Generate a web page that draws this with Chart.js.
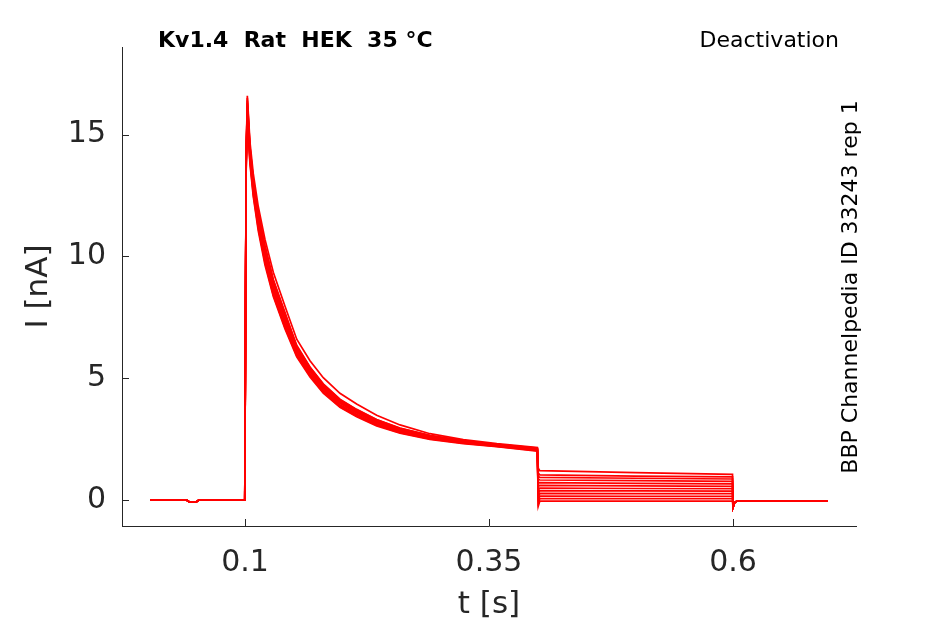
<!DOCTYPE html>
<html>
<head>
<meta charset="utf-8">
<script src="https://cdn.jsdelivr.net/npm/chart.js@4/dist/chart.umd.min.js"></script>
<style>
  html, body { margin: 0; padding: 0; background: #fff; }
  #wrap { width: 945px; height: 624px; }
</style>
</head>
<body>
<div id="wrap"><canvas id="traceChart"></canvas></div>
<script>
// time points (s) and current values (nA)
const baseTimes = [0.003, 0.04, 0.043, 0.05, 0.053, 0.0998];
const baseValues = [0, 0, -0.08, -0.08, 0, 0];

const actTimes = [0.1012, 0.1024, 0.1051, 0.1085, 0.1136, 0.1205, 0.129, 0.141, 0.153, 0.1666, 0.1802, 0.1973, 0.2144, 0.2349, 0.2588, 0.2895, 0.3237, 0.358, 0.3995];
const actSweeps = [
  [14.2, 16.6, 14.7, 13.4, 12.05, 10.7, 9.35, 7.95, 6.6, 5.72, 5.02, 4.38, 3.94, 3.48, 3.08, 2.72, 2.48, 2.31, 2.15],
  [14.1, 16.4, 14.5, 13.15, 11.8, 10.45, 9.05, 7.7, 6.3, 5.44, 4.75, 4.12, 3.7, 3.29, 2.94, 2.64, 2.43, 2.28, 2.13],
  [14.0, 16.2, 14.3, 12.95, 11.58, 10.2, 8.84, 7.47, 6.2, 5.34, 4.66, 4.04, 3.63, 3.22, 2.88, 2.6, 2.4, 2.26, 2.1],
  [13.9, 16.0, 14.2, 12.85, 11.45, 10.05, 8.7, 7.35, 6.1, 5.26, 4.58, 3.97, 3.57, 3.17, 2.84, 2.57, 2.38, 2.24, 2.08],
  [13.8, 15.9, 14.1, 12.75, 11.35, 9.95, 8.6, 7.25, 6.03, 5.19, 4.52, 3.91, 3.52, 3.13, 2.81, 2.55, 2.36, 2.23, 2.06],
  [14.1, 16.3, 14.4, 13.05, 11.68, 10.3, 8.94, 7.56, 6.28, 5.41, 4.72, 4.1, 3.68, 3.26, 2.91, 2.62, 2.42, 2.27, 2.11],
  [13.7, 15.8, 14.0, 12.65, 11.25, 9.85, 8.5, 7.15, 5.98, 5.14, 4.48, 3.87, 3.48, 3.1, 2.78, 2.53, 2.34, 2.21, 2.04],
  [13.9, 16.1, 14.25, 12.9, 11.5, 10.1, 8.76, 7.4, 6.15, 5.3, 4.62, 4.0, 3.6, 3.19, 2.86, 2.58, 2.39, 2.25, 2.07],
  [13.6, 15.7, 13.9, 12.55, 11.15, 9.75, 8.42, 7.08, 5.93, 5.1, 4.43, 3.83, 3.45, 3.07, 2.76, 2.51, 2.33, 2.2, 2.02],
  [14.0, 16.1, 14.35, 13.0, 11.62, 10.25, 8.9, 7.52, 6.23, 5.37, 4.69, 4.07, 3.65, 3.24, 2.89, 2.61, 2.41, 2.27, 2.09],
  [13.5, 15.6, 13.8, 12.45, 11.05, 9.65, 8.35, 7.02, 5.88, 5.05, 4.39, 3.8, 3.42, 3.04, 2.74, 2.49, 2.31, 2.19, 2.0],
  [14.1, 16.5, 14.5, 13.15, 11.78, 10.4, 9.02, 7.65, 6.35, 5.46, 4.77, 4.14, 3.72, 3.3, 2.95, 2.65, 2.44, 2.28, 2.12]
];

const tailTimes = [0.4005, 0.402, 0.5, 0.5995];
const tailSweeps = [
  [1.3, 1.2, 1.12, 1.05],
  [1.1, 1.03, 0.98, 0.95],
  [0.98, 0.93, 0.89, 0.86],
  [0.85, 0.82, 0.79, 0.76],
  [0.7, 0.71, 0.68, 0.66],
  [0.55, 0.6, 0.58, 0.56],
  [0.4, 0.49, 0.47, 0.46],
  [0.25, 0.38, 0.37, 0.36],
  [0.1, 0.27, 0.26, 0.26],
  [-0.05, 0.16, 0.15, 0.15],
  [-0.15, 0.05, 0.05, 0.05],
  [-0.25, -0.05, -0.05, -0.05]
];

const postTimes = [0.6, 0.6015, 0.604, 0.697];
const postValues = [-0.3, -0.12, -0.05, -0.05];

const xTickValues = [0.1, 0.35, 0.6];
const yTickValues = [0, 5, 10, 15];

const FONT = 'DejaVu Sans, sans-serif';
const AXIS_COLOR = '#262626';

function toPoints(times, values) {
  return times.map((t, i) => ({ x: t, y: values[i] }));
}

const datasets = actSweeps.map((act, i) => ({
  data: [
    ...toPoints(baseTimes, baseValues),
    ...toPoints(actTimes, act),
    ...toPoints(tailTimes, tailSweeps[i]),
    ...toPoints(postTimes, postValues)
  ],
  borderColor: '#ff0000',
  borderWidth: 1.7,
  pointRadius: 0,
  tension: 0,
  fill: false
}));

// matlab style: ticks point into the plot
const inwardTicks = {
  id: 'inwardTicks',
  afterDraw(chart) {
    const { ctx, chartArea, scales } = chart;
    ctx.save();
    ctx.strokeStyle = AXIS_COLOR;
    ctx.lineWidth = 1;
    ctx.beginPath();
    xTickValues.forEach(v => {
      const px = Math.round(scales.x.getPixelForValue(v)) + 0.5;
      ctx.moveTo(px, chartArea.bottom);
      ctx.lineTo(px, chartArea.bottom - 7);
    });
    yTickValues.forEach(v => {
      const py = Math.round(scales.y.getPixelForValue(v)) + 0.5;
      ctx.moveTo(chartArea.left, py);
      ctx.lineTo(chartArea.left + 7, py);
    });
    ctx.stroke();
    ctx.restore();
  }
};

const labels = {
  id: 'labels',
  afterDraw(chart) {
    const ctx = chart.ctx;
    ctx.save();
    ctx.fillStyle = '#000';
    ctx.textBaseline = 'alphabetic';
    ctx.font = 'bold 22px ' + FONT;
    ctx.textAlign = 'left';
    ctx.fillText('Kv1.4  Rat  HEK  35 °C', 158, 47);
    ctx.font = '22px ' + FONT;
    ctx.textAlign = 'right';
    ctx.fillText('Deactivation', 839, 47);
    ctx.translate(857, 287);
    ctx.rotate(-Math.PI / 2);
    ctx.textAlign = 'center';
    ctx.fillText('BBP Channelpedia ID 33243 rep 1', 0, 0);
    ctx.restore();
  }
};

new Chart(document.getElementById('traceChart'), {
  type: 'line',
  data: { datasets },
  options: {
    responsive: true,
    maintainAspectRatio: false,
    animation: false,
    parsing: false,
    layout: { padding: { top: 47, right: 89, left: 0, bottom: 0 } },
    plugins: { legend: { display: false }, tooltip: { enabled: false } },
    scales: {
      x: {
        type: 'linear',
        min: -0.026,
        max: 0.726,
        afterFit: scale => { scale.height = 98; },
        afterBuildTicks: scale => { scale.ticks = xTickValues.map(v => ({ value: v })); },
        grid: { display: false, drawTicks: false },
        border: { display: true, color: AXIS_COLOR, width: 1 },
        ticks: {
          color: AXIS_COLOR,
          font: { family: FONT, size: 30 },
          padding: 19,
          maxRotation: 0,
          callback: v => String(v)
        },
        title: {
          display: true,
          text: 't [s]',
          color: AXIS_COLOR,
          font: { family: FONT, size: 31 },
          padding: { top: 0, bottom: 0 }
        }
      },
      y: {
        min: -1.07,
        max: 18.6,
        afterFit: scale => { scale.width = 122; },
        afterBuildTicks: scale => { scale.ticks = yTickValues.map(v => ({ value: v })); },
        grid: { display: false, drawTicks: false },
        border: { display: true, color: AXIS_COLOR, width: 1 },
        ticks: {
          color: AXIS_COLOR,
          font: { family: FONT, size: 30 },
          padding: 16,
          callback: v => String(v)
        },
        title: {
          display: true,
          text: 'I [nA]',
          color: AXIS_COLOR,
          font: { family: FONT, size: 31 },
          padding: { top: 20, bottom: 0 }
        }
      }
    }
  },
  plugins: [inwardTicks, labels]
});
</script>
</body>
</html>
